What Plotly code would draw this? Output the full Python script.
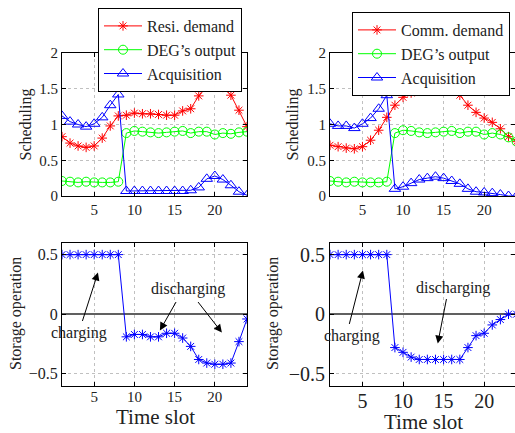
import plotly.graph_objects as go

# ---------------- data ----------------
time_slot = list(range(1, 25))

resi_demand = [0.83, 0.74, 0.70, 0.68, 0.70, 0.81, 0.98, 1.12, 1.13, 1.16, 1.15, 1.15,
               1.14, 1.13, 1.13, 1.19, 1.22, 1.40, 1.55, 1.56, 1.52, 1.41, 1.20, 0.97]
deg_output_left = [0.21, 0.20, 0.19, 0.20, 0.19, 0.19, 0.19, 0.20, 0.88, 0.91, 0.90, 0.89,
                   0.88, 0.89, 0.90, 0.91, 0.88, 0.90, 0.90, 0.86, 0.88, 0.87, 0.89, 0.90]
acq_left = [1.12, 1.04, 1.00, 0.97, 1.01, 1.10, 1.27, 1.42, 0.07, 0.07, 0.07, 0.07,
            0.07, 0.07, 0.07, 0.07, 0.08, 0.12, 0.24, 0.28, 0.23, 0.15, 0.06, 0.01]

comm_demand = [0.71, 0.69, 0.67, 0.66, 0.69, 0.78, 0.92, 1.10, 1.27, 1.38, 1.44, 1.48,
               1.51, 1.52, 1.52, 1.49, 1.41, 1.27, 1.17, 1.09, 1.03, 0.94, 0.83, 0.76]
deg_output_right = [0.21, 0.20, 0.19, 0.20, 0.19, 0.19, 0.19, 0.20, 0.88, 0.92, 0.91, 0.89,
                    0.88, 0.89, 0.90, 0.91, 0.88, 0.90, 0.90, 0.86, 0.88, 0.86, 0.82, 0.76]
acq_right = [1.01, 0.98, 0.98, 0.95, 1.01, 1.09, 1.22, 1.41, 0.10, 0.13, 0.18, 0.23,
             0.25, 0.27, 0.25, 0.21, 0.17, 0.10, 0.06, 0.05, 0.04, 0.02, 0.00, 0.00]

storage_left = [0.5, 0.5, 0.5, 0.5, 0.5, 0.5, 0.5, 0.5, -0.19, -0.17, -0.17, -0.19,
                -0.19, -0.16, -0.16, -0.20, -0.27, -0.38, -0.41, -0.42, -0.42, -0.41, -0.23, -0.04]
storage_right = [0.5, 0.5, 0.5, 0.5, 0.5, 0.5, 0.5, 0.5, -0.28, -0.32, -0.36, -0.38,
                 -0.38, -0.38, -0.38, -0.38, -0.38, -0.28, -0.18, -0.16, -0.09, -0.045, 0.0, 0.0]

x_ticks = [5, 10, 15, 20]
top_y_ticks = [0, 0.5, 1, 1.5, 2]
top_y_labels = ["0", "0.5", "1", "1.5", "2"]
bot_y_ticks = [-0.5, 0, 0.5]
bot_y_labels = ["\u22120.5", "0", "0.5"]

FONT = "Liberation Serif"
W, H = 515, 433

def px(x):
    return x / W

def py(y):
    return 1 - y / H

fig = go.Figure()

def add_line(x, y, name, color, symbol, size, xa, ya, legend=None, show=True):
    fig.add_trace(go.Scatter(
        x=x, y=y, name=name, mode="lines+markers",
        line=dict(color=color, width=1),
        marker=dict(symbol=symbol, size=size, color=color, line=dict(color=color, width=1)),
        xaxis=xa, yaxis=ya, showlegend=show, legend=legend,
    ))

# top-left
add_line(time_slot, resi_demand, "Resi. demand", "#ff0000", "asterisk-open", 8, "x", "y", "legend")
add_line(time_slot, deg_output_left, "DEG\u2019s output", "#00ff00", "circle-open", 9, "x", "y", "legend")
add_line(time_slot, acq_left, "Acquisition", "#0000ff", "triangle-up-open", 10, "x", "y", "legend")
# top-right
add_line(time_slot, comm_demand, "Comm. demand", "#ff0000", "asterisk-open", 8, "x2", "y2", "legend2")
add_line(time_slot, deg_output_right, "DEG\u2019s output", "#00ff00", "circle-open", 9, "x2", "y2", "legend2")
add_line(time_slot, acq_right, "Acquisition", "#0000ff", "triangle-up-open", 10, "x2", "y2", "legend2")
# bottom
add_line(time_slot, storage_left, "Storage", "#0000ff", "asterisk-open", 8, "x3", "y3", show=False)
add_line(time_slot, storage_right, "Storage", "#0000ff", "asterisk-open", 8, "x4", "y4", show=False)

def xaxis(domain, rng, fs, anchor, standoff=0):
    return dict(domain=domain, range=rng, anchor=anchor, tickvals=x_ticks,
                ticktext=[str(v) for v in x_ticks], automargin=False,
                showline=True, linecolor="black", linewidth=1, mirror="ticks",
                ticks="inside", ticklen=4, tickcolor="black",
                ticklabelstandoff=standoff,
                showgrid=True, gridcolor="#c0c0c0", griddash="dot", gridwidth=1,
                zeroline=False, tickfont=dict(family=FONT, size=fs, color="#222"))

def yaxis(domain, rng, tv, tt, fs, anchor, zero):
    return dict(domain=domain, range=rng, anchor=anchor, tickvals=tv, ticktext=tt,
                automargin=False,
                showline=True, linecolor="black", linewidth=1, mirror="ticks",
                ticks="inside", ticklen=4, tickcolor="black",
                showgrid=True, gridcolor="#c0c0c0", griddash="dot", gridwidth=1,
                zeroline=zero, zerolinecolor="#606060", zerolinewidth=1.5,
                tickfont=dict(family=FONT, size=fs, color="#222"))

top_dom = [py(196), py(53)]
bot_dom = [py(385.7), py(242.7)]
left_dom = [px(62), px(247)]
right_dom = [px(330), 1.0]

fig.update_layout(
    template="none",
    width=W, height=H,
    margin=dict(l=0, r=0, t=0, b=0, pad=0, autoexpand=False),
    paper_bgcolor="white", plot_bgcolor="white",
    font=dict(family=FONT, color="#222"),
    xaxis=xaxis(left_dom, [1, 24], 15, "y"),
    yaxis=yaxis(top_dom, [0, 2], top_y_ticks, top_y_labels, 15, "x", False),
    xaxis2=xaxis(right_dom, [1, 23.8], 15, "y2"),
    yaxis2=yaxis(top_dom, [0, 2], top_y_ticks, top_y_labels, 15, "x2", False),
    xaxis3=xaxis(left_dom, [1, 24], 15, "y3", -3),
    yaxis3=yaxis(bot_dom, [-0.6, 0.6], bot_y_ticks, bot_y_labels, 16, "x3", True),
    xaxis4=xaxis(right_dom, [1, 23.8], 20, "y4", -3),
    yaxis4=yaxis(bot_dom, [-0.6, 0.6], bot_y_ticks, bot_y_labels, 20, "x4", True),
    legend=dict(x=px(98), y=py(8), xanchor="left", yanchor="top",
                bgcolor="white", bordercolor="black", borderwidth=1, itemwidth=38,
                font=dict(family=FONT, size=16, color="#222"), tracegroupgap=0),
    legend2=dict(x=px(352), y=py(12), xanchor="left", yanchor="top",
                 bgcolor="white", bordercolor="black", borderwidth=1, itemwidth=38,
                 font=dict(family=FONT, size=16, color="#222"), tracegroupgap=0),
    showlegend=True,
)

ann = []
def title(text, x, y, size, angle=0):
    ann.append(dict(text=text, x=px(x), y=py(y), xref="paper", yref="paper",
                    showarrow=False, textangle=angle, xanchor="center", yanchor="middle",
                    font=dict(family=FONT, size=size, color="#222")))

title("Scheduling", 25, 124.5, 16, -90)
title("Scheduling", 292, 124.5, 16, -90)
title("Storage operation", 16, 314, 16, -90)
title("Storage operation", 273, 314, 16, -90)
title("Time slot", 155.5, 417, 21)
title("Time slot", 423, 422, 21)

def label(text, x, y, xr, yr):
    ann.append(dict(text=text, x=x, y=y, xref=xr, yref=yr, showarrow=False,
                    font=dict(family=FONT, size=16, color="#222")))

def arrow(x, y, ax, ay, xr, yr):
    ann.append(dict(text="", x=x, y=y, xref=xr, yref=yr, ax=ax, ay=ay,
                    showarrow=True, arrowhead=2, arrowsize=1.6, arrowwidth=1,
                    arrowcolor="black"))

# bottom-left annotations
label("charging", 3.11, -0.154, "x3", "y3")
arrow(5.47, 0.35, -16, 50, "x3", "y3")
label("discharging", 16.65, 0.21, "x3", "y3")
arrow(13.17, -0.137, 17, -30, "x3", "y3")
arrow(20.88, -0.154, -25, -32, "x3", "y3")

# bottom-right annotations
label("charging", 3.7, -0.18, "x4", "y4")
arrow(5.06, 0.367, -14, 55, "x4", "y4")
label("discharging", 16.13, 0.216, "x4", "y4")
arrow(14.28, -0.246, 9, -46, "x4", "y4")

fig.update_layout(annotations=ann)

fig.write_html("out.html", config={"displayModeBar": False},
               post_script="document.body.style.margin='0px';")
